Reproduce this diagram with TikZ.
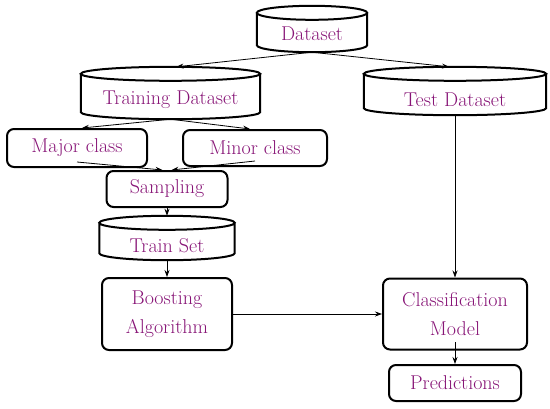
\documentclass[tikz,border=0pt]{standalone}
\usetikzlibrary{arrows.meta,calc}
\definecolor{txt}{RGB}{135,20,118}
\tikzset{
  lbl/.style={text=txt, font=\fontsize{20}{29}\selectfont, align=center, inner sep=0pt},
  box/.style={lbl, draw, line width=2pt, rounded corners=7pt},
  cylnode/.style={lbl},
  conn/.style={line width=0.8pt, -{Stealth[length=7pt,width=5pt]}},
}
\newcommand\drawcyl[1]{%
  \draw[line width=2pt] let \p1=(#1.east), \p2=(#1.center), \n1={\x1-\x2} in
    ([yshift=-7pt]#1.north) ellipse [x radius=\n1, y radius=7pt]
    ([yshift=-7pt]#1.north west) -- ([yshift=7pt]#1.south west)
    arc[start angle=180, end angle=360, x radius=\n1, y radius=7pt]
    -- ([yshift=-7pt]#1.north east);
}
\newcommand\lowered[2]{\raisebox{-#1}[\height][\depth]{#2}}
\begin{document}
\begin{tikzpicture}[x=1pt,y=1pt]
\useasboundingbox (0,0) rectangle (550,-408);
% cylinders
\node[cylnode, minimum width=110pt, minimum height=46pt] (ds) at (312,-29) {\lowered{5pt}{Dataset}};
\node[cylnode, minimum width=179pt, minimum height=52pt] (tr) at (170.5,-93) {\lowered{7pt}{Training Dataset}};
\node[cylnode, minimum width=182pt, minimum height=48pt] (te) at (455,-91) {\lowered{9pt}{Test Dataset}};
\node[cylnode, minimum width=135pt, minimum height=44pt] (ts) at (167,-238) {\lowered{8pt}{Train Set}};
\drawcyl{ds}
\drawcyl{tr}
\drawcyl{te}
\drawcyl{ts}
% boxes
\node[box, minimum width=140pt, minimum height=38pt] (maj) at (77,-148) {Major class};
\node[box, minimum width=144pt, minimum height=36pt] (min) at (255,-148) {Minor class};
\node[box, minimum width=121pt, minimum height=36pt] (smp) at (167,-189) {Sampling};
\node[box, minimum width=130pt, minimum height=72pt] (boo) at (167,-314) {Boosting\\Algorithm};
\node[box, minimum width=144pt, minimum height=71pt] (cls) at (455,-314) {Classification\\Model};
\node[box, minimum width=132pt, minimum height=36pt] (pred) at (455,-383) {Predictions};
% connectors
\draw[conn] (ds.south) -- ([xshift=6pt]tr.north);
\draw[conn] (ds.south) -- ([xshift=-6pt]te.north);
\draw[conn] (tr.south) -- ([xshift=5pt]maj.north);
\draw[conn] (tr.south) -- ([xshift=-5pt]min.north);
\draw[conn] ([yshift=-14pt]maj.center) -- ([xshift=-4.5pt]smp.north);
\draw[conn] ([yshift=-13pt]min.center) -- ([xshift=4.5pt]smp.north);
\draw[conn] (smp.south) -- (ts.north);
\draw[conn] (ts.south) -- (boo.north);
\draw[conn] (te.south) -- (cls.north);
\draw[conn] (boo.east) -- (cls.west);
\draw[conn] ([yshift=-28pt]cls.center) -- (pred.north);
\end{tikzpicture}
\end{document}
